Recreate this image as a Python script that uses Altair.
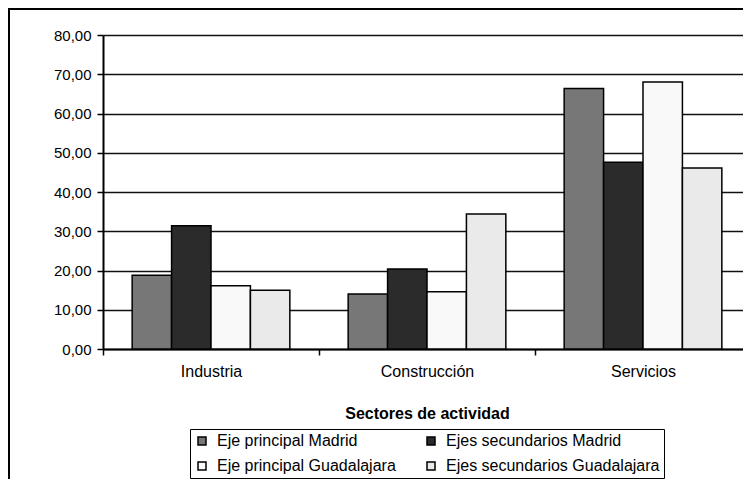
import altair as alt
import pandas as pd

categories = ["Industria", "Construcción", "Servicios"]
series = [
    "Eje principal Madrid",
    "Ejes secundarios Madrid",
    "Eje principal Guadalajara",
    "Ejes secundarios Guadalajara",
]
eje_principal_madrid = [18.8, 14.0, 66.4]
ejes_secundarios_madrid = [31.4, 20.4, 47.6]
eje_principal_guadalajara = [16.1, 14.6, 68.0]
ejes_secundarios_guadalajara = [15.0, 34.4, 46.1]
y_ticks = [0, 10, 20, 30, 40, 50, 60, 70, 80]
colors = ["#777777", "#2b2b2b", "#f9f9f9", "#eaeaea"]

rows = []
for s, vals in zip(series, [eje_principal_madrid, ejes_secundarios_madrid,
                            eje_principal_guadalajara, ejes_secundarios_guadalajara]):
    for c, v in zip(categories, vals):
        rows.append({"sector": c, "serie": s, "valor": v})
df = pd.DataFrame(rows)

FONT = "Liberation Sans"

bars = alt.Chart(df).mark_bar(stroke="black", strokeWidth=1.5).encode(
    x=alt.X(
        "sector:N",
        sort=categories,
        scale=alt.Scale(paddingInner=0.27, paddingOuter=0.135, range=[0, 648]),
        axis=alt.Axis(
            title="Sectores de actividad",
            titleFont=FONT,
            titleFontSize=16,
            titleFontWeight="bold",
            titleColor="black",
            titlePadding=26,
            labelAngle=0,
            labelFont=FONT,
            labelFontSize=16,
            labelColor="black",
            labelPadding=8,
            tickOffset=-108,
            labelOffset=108,
            tickSize=6,
            tickColor="black",
            tickWidth=1.5,
            domainColor="black",
            domainWidth=2,
            grid=False,
        ),
    ),
    xOffset=alt.XOffset("serie:N", sort=series, scale=alt.Scale(paddingInner=0, paddingOuter=0)),
    y=alt.Y(
        "valor:Q",
        scale=alt.Scale(domain=[0, 80], nice=False),
        axis=alt.Axis(
            title=None,
            values=y_ticks,
            labelExpr="replace(format(datum.value, '.2f'), '.', ',')",
            labelFont=FONT,
            labelFontSize=15,
            labelColor="black",
            labelPadding=6,
            tickSize=6,
            tickColor="black",
            tickWidth=1.5,
            domainColor="black",
            domainWidth=2,
            grid=True,
            gridColor="#111111",
            gridWidth=1.4,
        ),
    ),
    color=alt.Color(
        "serie:N",
        sort=series,
        scale=alt.Scale(domain=series, range=colors),
        legend=alt.Legend(
            title=None,
            orient="none",
            legendX=87,
            legendY=394,
            columns=2,
            direction="horizontal",
            strokeColor="black",
            padding=4,
            labelFont=FONT,
            labelFontSize=16,
            labelColor="black",
            labelLimit=400,
            labelOffset=7,
            symbolType="square",
            symbolSize=64,
            symbolStrokeColor="black",
            symbolStrokeWidth=1.5,
            columnPadding=27,
            rowPadding=9,
        ),
    ),
)

frame = alt.Chart(alt.Data(values=[{"f": 1}])).mark_rect(
    fillOpacity=0, stroke="black", strokeWidth=2, clip=False
).encode(
    x=alt.value(-94), x2=alt.value(760), y=alt.value(-26), y2=alt.value(520)
)

chart = alt.layer(frame, bars).properties(
    width=640,
    height=314,
    autosize=alt.AutoSizeParams(type="none"),
    padding={"left": 95, "top": 27, "right": 0, "bottom": 130},
    background="white",
).configure_view(strokeWidth=0)

chart.save("out.html", embed_options={"renderer": "svg", "actions": False})
